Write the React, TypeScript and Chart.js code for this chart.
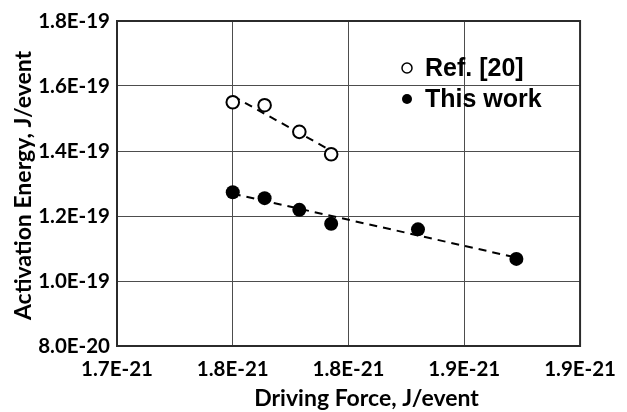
import React, { useEffect, useRef } from 'react';
import { Chart, registerables } from 'chart.js';

Chart.register(...registerables);

// Driving force in units of 1E-21 J/event, activation energy in units of 1E-20 J/event
const refForce = [1.780, 1.791, 1.803, 1.814];
const refEnergy = [15.50, 15.41, 14.59, 13.90];
const workForce = [1.780, 1.791, 1.803, 1.814, 1.844, 1.878];
const workEnergy = [12.73, 12.55, 12.19, 11.76, 11.59, 10.68];

const seriesLabels = ['Ref. [20]', 'This work'];

const xTickValues = [1.74, 1.78, 1.82, 1.86, 1.90];
const xTickLabels = ['1.7E-21', '1.8E-21', '1.8E-21', '1.9E-21', '1.9E-21'];
const yTickValues = [8, 10, 12, 14, 16, 18];
const yTickLabels = ['8.0E-20', '1.0E-19', '1.2E-19', '1.4E-19', '1.6E-19', '1.8E-19'];

const xTitle = 'Driving Force, J/event';
const yTitle = 'Activation Energy, J/event';

// least-squares trend line spanning the series' x range
function trendLine(xs: number[], ys: number[]) {
  const n = xs.length;
  const mx = xs.reduce((a, b) => a + b, 0) / n;
  const my = ys.reduce((a, b) => a + b, 0) / n;
  let sxy = 0;
  let sxx = 0;
  for (let i = 0; i < n; i++) {
    sxy += (xs[i] - mx) * (ys[i] - my);
    sxx += (xs[i] - mx) * (xs[i] - mx);
  }
  const slope = sxy / sxx;
  const x0 = Math.min(...xs);
  const x1 = Math.max(...xs);
  return [
    { x: x0, y: my + slope * (x0 - mx) },
    { x: x1, y: my + slope * (x1 - mx) },
  ];
}

const toPoints = (xs: number[], ys: number[]) => xs.map((x, i) => ({ x, y: ys[i] }));

const TICK_FONT = { family: 'Lato', weight: 'bold' as const, size: 20.5 };
const TITLE_CSS = 'bold 23px Lato, sans-serif';
const LEGEND_CSS = 'bold 25px "Liberation Sans", Arial, sans-serif';

// plot frame, axis titles and the in-plot legend
const frameAndLegend = {
  id: 'frameAndLegend',
  beforeDatasetsDraw(chart: any) {
    const { ctx, chartArea } = chart;
    ctx.save();
    ctx.strokeStyle = '#2b2b2b';
    ctx.lineWidth = 2;
    ctx.strokeRect(
      chartArea.left,
      chartArea.top,
      chartArea.right - chartArea.left,
      chartArea.bottom - chartArea.top
    );
    ctx.restore();
  },
  afterDraw(chart: any) {
    const { ctx, chartArea } = chart;
    ctx.save();
    ctx.fillStyle = '#000';

    // axis titles
    ctx.font = TITLE_CSS;
    ctx.textAlign = 'center';
    ctx.textBaseline = 'alphabetic';
    ctx.fillText(xTitle, (chartArea.left + chartArea.right) / 2 + 18, chartArea.bottom + 60);
    ctx.save();
    ctx.translate(chartArea.left - 86, (chartArea.top + chartArea.bottom) / 2 + 2);
    ctx.rotate(-Math.PI / 2);
    ctx.fillText(yTitle, 0, 0);
    ctx.restore();

    // legend
    const x = chartArea.left + 290;
    const rows = [chartArea.top + 47, chartArea.top + 78];
    ctx.font = LEGEND_CSS;
    ctx.textAlign = 'left';
    ctx.textBaseline = 'middle';
    seriesLabels.forEach((label, i) => {
      const y = rows[i];
      ctx.beginPath();
      ctx.arc(x, y, 5, 0, Math.PI * 2);
      if (i === 0) {
        ctx.lineWidth = 1.5;
        ctx.strokeStyle = '#000';
        ctx.stroke();
      } else {
        ctx.fill();
      }
      ctx.fillText(label, x + 18, y + 1);
    });
    ctx.restore();
  },
};

export default function App() {
  const canvasRef = useRef<HTMLCanvasElement | null>(null);

  useEffect(() => {
    if (!canvasRef.current) return;
    const chart = new Chart(canvasRef.current, {
      type: 'scatter',
      data: {
        datasets: [
          {
            label: seriesLabels[0],
            data: toPoints(refForce, refEnergy),
            pointRadius: 6.3,
            pointBorderWidth: 2,
            pointBackgroundColor: '#fff',
            pointBorderColor: '#000',
            order: 1,
          },
          {
            label: seriesLabels[1],
            data: toPoints(workForce, workEnergy),
            pointRadius: 7,
            pointBorderWidth: 0,
            pointBackgroundColor: '#000',
            pointBorderColor: '#000',
            order: 1,
          },
          {
            label: 'ref-trend',
            type: 'line',
            data: trendLine(refForce, refEnergy),
            showLine: true,
            borderColor: '#000',
            borderWidth: 2,
            borderDash: [8, 6],
            pointRadius: 0,
            fill: false,
            order: 2,
          },
          {
            label: 'work-trend',
            type: 'line',
            data: trendLine(workForce, workEnergy),
            showLine: true,
            borderColor: '#000',
            borderWidth: 2,
            borderDash: [8, 6],
            pointRadius: 0,
            fill: false,
            order: 2,
          },
        ] as any,
      },
      options: {
        responsive: false,
        animation: false,
        devicePixelRatio: 1,
        layout: { padding: { left: 0, right: 37, top: 21, bottom: 0 } },
        plugins: {
          legend: { display: false },
          tooltip: { enabled: false },
        },
        scales: {
          x: {
            type: 'linear',
            min: xTickValues[0],
            max: xTickValues[xTickValues.length - 1],
            afterBuildTicks: (scale: any) => {
              scale.ticks = xTickValues.map((v) => ({ value: v }));
            },
            afterFit: (scale: any) => {
              scale.height = 66;
            },
            grid: { color: '#4d4d4d', lineWidth: 1, drawTicks: false },
            border: { display: false },
            ticks: {
              font: TICK_FONT,
              color: '#000',
              padding: 11,
              maxRotation: 0,
              autoSkip: false,
              callback: (_v: any, i: number) => xTickLabels[i],
            },
          },
          y: {
            type: 'linear',
            min: yTickValues[0],
            max: yTickValues[yTickValues.length - 1],
            afterBuildTicks: (scale: any) => {
              scale.ticks = yTickValues.map((v) => ({ value: v }));
            },
            afterFit: (scale: any) => {
              scale.width = 117;
            },
            grid: { color: '#4d4d4d', lineWidth: 1, drawTicks: false },
            border: { display: false },
            ticks: {
              font: TICK_FONT,
              color: '#000',
              padding: 7,
              autoSkip: false,
              callback: (_v: any, i: number) => yTickLabels[i],
            },
          },
        },
      },
      plugins: [frameAndLegend],
    });
    return () => chart.destroy();
  }, []);

  return (
    <div style={{ position: 'fixed', left: 0, top: 0, width: 627, height: 412, background: '#fff' }}>
      <canvas ref={canvasRef} width={627} height={412} />
    </div>
  );
}
